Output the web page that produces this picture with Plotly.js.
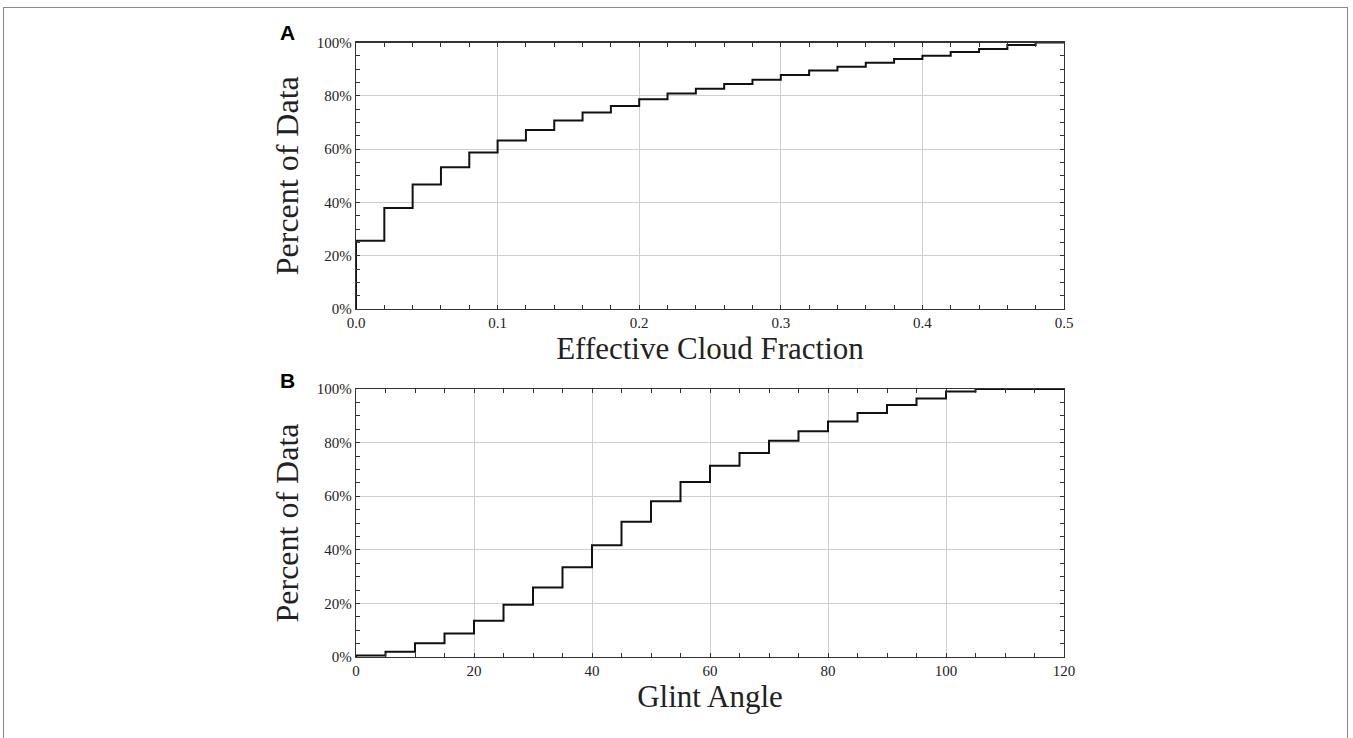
<!DOCTYPE html>
<html>
<head>
<meta charset="utf-8">
<script src="https://cdn.plot.ly/plotly-3.0.1.min.js"></script>
<style>
html,body{margin:0;padding:0;background:#fff;}
#wrap{position:relative;width:1353px;height:738px;overflow:hidden;}
#frame{position:absolute;left:3px;top:7px;width:1345px;height:760px;border:1.5px solid #8a8a8a;box-sizing:border-box;pointer-events:none;}
#chart{position:absolute;left:0;top:0;width:1353px;height:738px;}
</style>
</head>
<body>
<div id="wrap"><div id="chart"></div><div id="frame"></div></div>
<script>
// Panel A: effective cloud fraction, bin edges and cumulative percent per bin
const cloudEdges = [0.00,0.02,0.04,0.06,0.08,0.10,0.12,0.14,0.16,0.18,0.20,0.22,0.24,0.26,0.28,0.30,0.32,0.34,0.36,0.38,0.40,0.42,0.44,0.46,0.48,0.50];
const cloudCumPct = [25.6,37.9,46.7,53.2,58.7,63.2,67.2,70.7,73.7,76.2,78.7,80.9,82.6,84.4,86.0,87.8,89.5,90.9,92.4,93.8,95.0,96.4,97.6,99.1,100.0];

// Panel B: glint angle, bin edges and cumulative percent per bin
const glintEdges = [0,5,10,15,20,25,30,35,40,45,50,55,60,65,70,75,80,85,90,95,100,105,110,115,120];
const glintCumPct = [0.6,2.0,5.1,8.8,13.5,19.5,25.9,33.5,41.7,50.5,58.1,65.3,71.4,76.1,80.7,84.2,87.9,91.0,94.0,96.5,99.1,100,100,100];

const xTitleA = "Effective Cloud Fraction";
const xTitleB = "Glint Angle";
const yTitle = "Percent of Data";
const panelLabels = ["A","B"];

function stepXY(edges, vals){
  const x = [edges[0]], y = [0];
  for (let i = 0; i < vals.length; i++){ x.push(edges[i]); y.push(vals[i]); }
  x.push(edges[edges.length-1]); y.push(vals[vals.length-1]);
  return {x, y};
}

const sA = stepXY(cloudEdges, cloudCumPct);
const sB = stepXY(glintEdges, glintCumPct);

const W = 1353, H = 738;
const serif = "Liberation Serif, DejaVu Serif, serif";
const xd = [356/W, 1064/W];
const ydA = [1-309/H, 1-42.5/H];
const ydB = [1-657/H, 1-389/H];

const lineStyle = {color:'#111', width:2, shape:'hv'};

const data = [
  {x:sA.x, y:sA.y, type:'scatter', mode:'lines', line:lineStyle, xaxis:'x', yaxis:'y', hoverinfo:'x+y'},
  {x:sB.x, y:sB.y, type:'scatter', mode:'lines', line:lineStyle, xaxis:'x2', yaxis:'y2', hoverinfo:'x+y'}
];

function xAxis(domain, anchor, range, dtick, minorDtick, fmt, title){
  return {
    domain: domain, anchor: anchor, range: range,
    dtick: dtick, tick0: 0, tickformat: fmt,
    ticks:'inside', ticklen:4, tickwidth:1, tickcolor:'#333',
    minor:{dtick:minorDtick, ticks:'inside', ticklen:4, tickwidth:1, tickcolor:'#333', showgrid:false},
    showline:true, linecolor:'#333', linewidth:1.3, mirror:'allticks',
    showgrid:true, gridcolor:'#cfcfcf', gridwidth:1,
    zeroline:false,
    tickfont:{family:serif, size:15, color:'#222'},
    title:{text:title, font:{family:serif, size:31, color:'#222'}, standoff:2},
    fixedrange:true
  };
}
function yAxis(domain, anchor){
  return {
    domain: domain, anchor: anchor, range:[0,100],
    dtick:20, tick0:0, ticksuffix:'%',
    ticks:'inside', ticklen:4, tickwidth:1, tickcolor:'#333',
    minor:{dtick:5, ticks:'inside', ticklen:4, tickwidth:1, tickcolor:'#333', showgrid:false},
    showline:true, linecolor:'#333', linewidth:1.3, mirror:'allticks',
    showgrid:true, gridcolor:'#cfcfcf', gridwidth:1,
    zeroline:false,
    tickfont:{family:serif, size:15, color:'#222'},
    title:{text:yTitle, font:{family:serif, size:32, color:'#222'}, standoff:8},
    fixedrange:true
  };
}

const layout = {
  width:W, height:H,
  margin:{l:0, r:0, t:0, b:0},
  paper_bgcolor:'#fff', plot_bgcolor:'#fff',
  showlegend:false,
  xaxis: xAxis(xd, 'y', [0,0.5], 0.1, 0.02, '.1f', xTitleA),
  yaxis: yAxis(ydA, 'x'),
  xaxis2: xAxis(xd, 'y2', [0,120], 20, 5, 'd', xTitleB),
  yaxis2: yAxis(ydB, 'x2'),
  annotations:[
    {text:'<b>'+panelLabels[0]+'</b>', xref:'paper', yref:'paper', x:287/W, y:1-33/H, xanchor:'center', yanchor:'middle', showarrow:false, font:{family:'Liberation Sans, Arial, sans-serif', size:21, color:'#000'}},
    {text:'<b>'+panelLabels[1]+'</b>', xref:'paper', yref:'paper', x:287/W, y:1-380/H, xanchor:'center', yanchor:'middle', showarrow:false, font:{family:'Liberation Sans, Arial, sans-serif', size:21, color:'#000'}}
  ]
};

Plotly.newPlot('chart', data, layout, {displayModeBar:false, staticPlot:true});
</script>
</body>
</html>
